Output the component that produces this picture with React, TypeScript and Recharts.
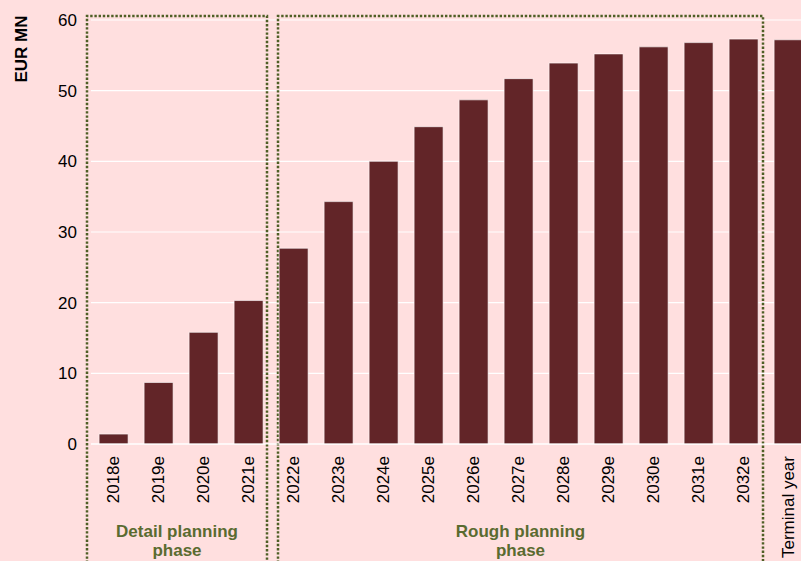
import React from 'react';
import { BarChart, Bar, XAxis, YAxis, CartesianGrid, ReferenceArea } from 'recharts';

// valores (EUR MN)
const years = [
  '2018e', '2019e', '2020e', '2021e', '2022e', '2023e', '2024e', '2025e',
  '2026e', '2027e', '2028e', '2029e', '2030e', '2031e', '2032e', 'Terminal year',
];
const values = [1.4, 8.7, 15.8, 20.3, 27.7, 34.3, 40.0, 44.9, 48.7, 51.7, 53.9, 55.2, 56.2, 56.8, 57.3, 57.2];
const yTicks = [0, 10, 20, 30, 40, 50, 60];
const detailLabel = ['Detail planning', 'phase'];
const roughLabel = ['Rough planning', 'phase'];

const data = years.map((year, i) => ({ year, value: values[i] }));

const FONT = '"Liberation Sans", Arial, sans-serif';
const BG = '#ffdfdf';
const BAR = '#622528';
const GREEN = '#5a6b30';
const DOTS = '#4f5f26';

const YearTick = ({ x, y, payload }: any) => (
  <text
    transform={`translate(${x},${y + 4}) rotate(-90)`}
    textAnchor="end"
    dy="0.35em"
    fontSize={17}
    fontFamily={FONT}
    fill="#000"
  >
    {payload.value}
  </text>
);

// caixa pontilhada de cada fase, com o rótulo embaixo
const phaseBox = (lines: string[], dl: number, dr: number) => (props: any) => {
  const { x, y, width, height } = props;
  const left = Math.round(x + dl);
  const right = Math.round(x + width + dr);
  const top = Math.round(y - 4);
  const bottom = y + height + 140;
  const cx = (left + right) / 2;
  return (
    <g>
      <path
        d={`M${left},${bottom} L${left},${top} L${right},${top} L${right},${bottom}`}
        fill="none"
        stroke={DOTS}
        strokeWidth={2.5}
        strokeDasharray="2.4 1.8"
      />
      {lines.map((line, i) => (
        <text
          key={line}
          x={cx}
          y={y + height + 93 + i * 19}
          textAnchor="middle"
          fontSize={17}
          fontWeight="bold"
          fontFamily={FONT}
          fill={GREEN}
        >
          {line}
        </text>
      ))}
    </g>
  );
};

const UnitLabel = ({ viewBox }: any) => (
  <text
    transform={`translate(${viewBox.x + 27},${viewBox.y + 29}) rotate(-90)`}
    textAnchor="middle"
    fontSize={17}
    fontWeight="bold"
    fontFamily={FONT}
    fill="#000"
  >
    EUR MN
  </text>
);

const App: React.FC = () => {
  return (
    <div
      style={{
        position: 'absolute',
        left: 0,
        top: 0,
        width: 801,
        height: 561,
        overflow: 'hidden',
        background: BG,
      }}
    >
      <BarChart
        width={811}
        height={561}
        data={data}
        margin={{ top: 20, right: 0, left: 0, bottom: 0 }}
        barCategoryGap="18%"
      >
        <CartesianGrid vertical={false} stroke="#ffffff" strokeWidth={1.2} />
        <XAxis
          dataKey="year"
          interval={0}
          height={117}
          axisLine={{ stroke: '#ffffff', strokeWidth: 1.2 }}
          tickLine={false}
          tick={<YearTick />}
        />
        <YAxis
          domain={[0, 60]}
          ticks={yTicks}
          width={91}
          axisLine={false}
          tickLine={false}
          tickMargin={8}
          tick={{ fontSize: 17, fontFamily: FONT, fill: '#000' }}
          label={<UnitLabel />}
        />
        <Bar
          dataKey="value"
          fill={BAR}
          stroke="#ffffff"
          strokeOpacity={0.6}
          strokeWidth={1}
          isAnimationActive={false}
        />
        <ReferenceArea x1="2018e" x2="2021e" ifOverflow="visible" shape={phaseBox(detailLabel, -4, -4)} />
        <ReferenceArea x1="2022e" x2="2032e" ifOverflow="visible" shape={phaseBox(roughLabel, 7, -3)} />
      </BarChart>
    </div>
  );
};

export default App;
